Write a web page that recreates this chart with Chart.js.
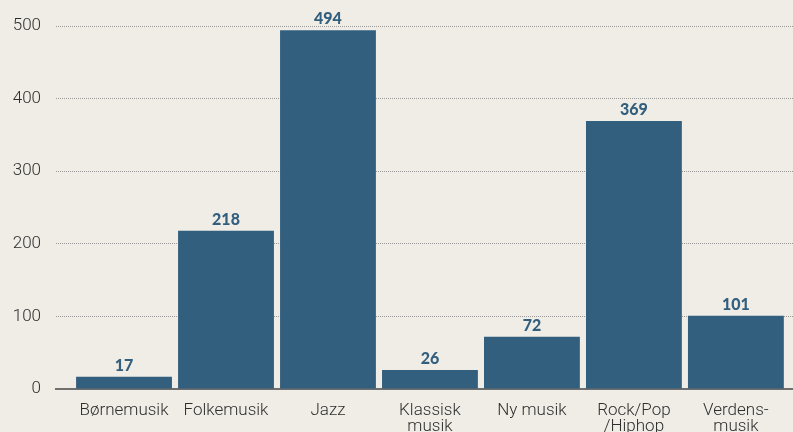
<!DOCTYPE html>
<html><head><meta charset="utf-8">
<script src="https://cdn.jsdelivr.net/npm/chart.js@4"></script>
<style>
html,body{margin:0;padding:0;background:#efede6;}
#wrap{width:793px;height:432px;position:relative;}
</style></head>
<body><div id="wrap"><canvas id="c" width="793" height="432"></canvas></div>
<script>
const categories = [["Børnemusik"],["Folkemusik"],["Jazz"],["Klassisk","musik"],["Ny musik"],["Rock/Pop","/Hiphop"],["Verdens-","musik"]];
const values = [17, 218, 494, 26, 72, 369, 101];
const yTicks = [0, 100, 200, 300, 400, 500];

const FONT = "Roboto";
const barColor = "#335f7e";

const dataLabels = {
  id: 'dataLabels',
  afterDatasetsDraw(chart) {
    const ctx = chart.ctx;
    const meta = chart.getDatasetMeta(0);
    ctx.save();
    ctx.fillStyle = barColor;
    ctx.font = "900 16px Lato";
    ctx.textAlign = "center";
    ctx.textBaseline = "alphabetic";
    meta.data.forEach((el, i) => {
      ctx.fillText(String(values[i]), el.x, el.y - 6);
    });
    ctx.restore();
  }
};

new Chart(document.getElementById('c'), {
  type: 'bar',
  data: {
    datasets: [{
      data: values.map((v, i) => ({x: i, y: v})),
      backgroundColor: barColor,
      borderWidth: 0,
      barPercentage: 0.94,
      categoryPercentage: 1.0
    }]
  },
  options: {
    responsive: false,
    animation: false,
    devicePixelRatio: 1,
    layout: {padding: {left: 0, right: 0, top: 26, bottom: 0}},
    plugins: {legend: {display: false}, tooltip: {enabled: false}},
    scales: {
      x: {
        type: 'linear',
        offset: false,
        min: -0.667,
        max: 6.56,
        afterBuildTicks(scale) { scale.ticks = categories.map((c, i) => ({value: i})); },
        afterFit(scale) { scale.height = 43; },
        grid: {display: false, drawTicks: false, offset: false},
        border: {display: true, color: '#6f6f6f', width: 2},
        ticks: {
          autoSkip: false,
          maxRotation: 0,
          padding: 14,
          color: '#2e2e2e',
          font: {family: FONT, size: 17, weight: 300, lineHeight: 0.95},
          callback: (v) => categories[v] || ''
        }
      },
      y: {
        min: 0, max: 500,
        afterBuildTicks(scale) { scale.ticks = yTicks.map(v => ({value: v})); },
        afterFit(scale) { scale.width = 56; },
        grid: {color: '#9a9a9a', lineWidth: 1, drawTicks: false},
        border: {display: false, dash: [1, 1]},
        ticks: {
          padding: 15,
          color: '#2e2e2e',
          font: {family: FONT, size: 17, weight: 300}
        }
      }
    }
  },
  plugins: [dataLabels]
});
</script></body></html>
